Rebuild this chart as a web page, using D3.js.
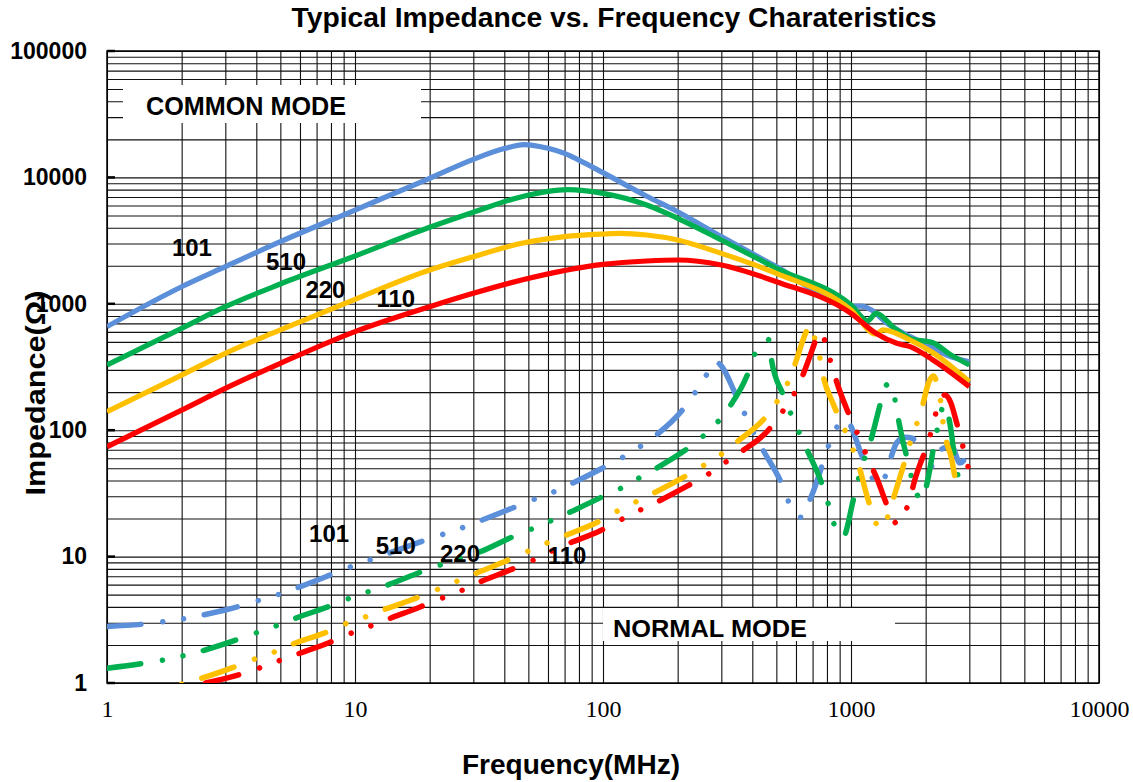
<!DOCTYPE html>
<html>
<head>
<meta charset="utf-8">
<script src="https://cdn.jsdelivr.net/npm/d3@7/dist/d3.min.js"></script>
<style>
body{margin:0;background:#fff;}
svg text{font-family:Arial,"Liberation Sans",sans-serif;font-weight:bold;fill:#000;}
</style>
</head>
<body>
<svg id="chart"></svg>
<script>
// tick values
const xTicks = [1, 10, 100, 1000, 10000]
const yTicks = [1, 10, 100, 1000, 10000, 100000]

const seriesNames = ["101", "510", "220", "110"]
const seriesColors = ["#5b8fd9", "#00b050", "#ffc000", "#ff0000"]

// common mode impedance, [MHz, ohm]
const cm101 = [[1,660],[2,1365],[3,1967],[5,3100],[10,5520],[20,9840],[30,13900],[40,16900],[48,18200],[60,17000],[70,15500],[80,13700],[100,10900],[150,7100],[200,5350],[300,3400],[500,1970],[1000,960],[1100,960],[1200,900],[1400,700],[1730,550],[2000,480],[2430,393],[3000,348]]
const cm510 = [[1,328],[2,640],[3,948],[5,1435],[10,2390],[20,4030],[30,5300],[47,7040],[72,8000],[100,7480],[150,6050],[200,4750],[300,3200],[500,1910],[1000,978],[1170,735],[1260,841],[1500,640],[1730,533],[2140,492],[2500,400],[3000,328]]
const cm220 = [[1,140],[2,273],[3,406],[5,621],[10,1085],[20,1850],[30,2360],[47,3010],[70,3400],[100,3565],[117,3610],[150,3500],[200,3200],[300,2505],[500,1742],[1000,893],[1260,577],[1346,621],[1730,517],[2140,410],[3000,242]]
const cm110 = [[1,74],[2,144],[3,214],[5,338],[10,602],[20,948],[30,1210],[47,1542],[100,2050],[150,2180],[200,2220],[300,2030],[500,1496],[1000,841],[1260,585],[1530,487],[1730,458],[2140,359],[3000,221]]

// normal mode impedance, [MHz, ohm]
const nm101 = [[1,2.8],[1.42,2.93],[1.68,3.05],[2.04,3.22],[2.44,3.45],[3.44,4.06],[4.1,4.51],[4.94,5.03],[5.9,5.7],[8.15,7.3],[9.6,8.3],[11.5,9.4],[13.8,10.7],[19,13.4],[22.6,15],[27.3,17],[32,19.2],[44.5,24.8],[53,28.5],[63.5,32.6],[74,37.5],[102,51.4],[120,61],[141,74],[164,91.6],[210,146],[235,198],[261,273],[285,350],[298,328],[346,184],[376,130],[409,91.6],[447,66.9],[526,37.5],[564,26.4],[628,20.5],[684,28.4],[875,105],[930,122],[984,113],[1110,62],[1300,37],[1345,39],[1428,55.7],[1528,79.6],[1650,88],[1774,86],[2018,47],[2100,50],[2203,65.6],[2546,75],[2750,55],[3000,69]]
const nm510 = [[1,1.31],[1.4,1.43],[1.69,1.52],[2.03,1.64],[2.43,1.8],[3.39,2.22],[4.01,2.5],[4.83,2.84],[5.74,3.25],[7.93,4.06],[9.4,4.64],[11.3,5.27],[13.5,5.96],[18.6,7.6],[22,8.58],[26.5,9.7],[31.9,10.9],[43.4,14.4],[51.5,16.5],[61.6,19.2],[73,22.3],[99.6,29.8],[118,34.7],[139,41.6],[164,50],[220,72],[254,90],[292,118],[325,155],[385,285],[409,401],[453,508],[465,520],[478,359],[533,190],[573,134],[618,95.5],[668,68.5],[766,36.9],[810,26.1],[855,18],[930,14.4],[1020,27.7],[1065,39.2],[1123,56.3],[1194,79.6],[1303,153],[1365,218],[1420,232],[1470,224],[1518,155],[1621,81],[1695,57],[1774,39.2],[1915,28.4],[2094,53],[2156,75],[2248,109],[2370,158],[2546,92],[2621,57],[2764,39.6]]
const nm220 = [[2,0.98],[2.4,1.09],[3.36,1.37],[3.99,1.56],[4.77,1.77],[5.63,2.04],[7.8,2.55],[9.27,2.97],[11.1,3.35],[13.2,3.83],[18.3,4.82],[21.7,5.54],[25.9,6.41],[30.8,7.38],[42.1,9.52],[50.2,11.1],[59.9,12.9],[71.2,14.8],[97.4,19.2],[115,23.1],[136,27.2],[161,32],[218,44],[256,53],[301,64.8],[347,81],[451,126],[505,170],[555,235],[594,332],[668,628],[690,680],[718,508],[753,353],[764,299],[848,161],[920,113],[990,80],[1064,56.3],[1160,30.2],[1230,21.1],[1300,16.8],[1355,17.3],[1445,24.8],[1593,45.6],[1680,64.8],[1774,92.9],[1899,132],[2076,249],[2150,268],[2218,238],[2302,165],[2352,113],[2546,58.9],[2651,41.1],[2760,40],[2874,46.5]]
const nm110 = [[2.5,1],[3.39,1.16],[4.01,1.29],[4.8,1.47],[5.74,1.67],[7.93,2.1],[9.4,2.43],[11.2,2.76],[13.3,3.15],[18.4,4.01],[21.8,4.59],[26.2,5.27],[31,6.15],[42.8,7.93],[50.8,9.12],[60,10.7],[71.4,12.5],[97.4,16],[116,19.2],[137,22.7],[163,26.7],[220,36.4],[260,43.6],[303,53.7],[356,66.4],[464,100],[520,134],[580,182],[632,258],[711,481],[740,600],[766,566],[848,294],[898,208],[963,146],[1040,103.5],[1190,55.3],[1280,40.4],[1367,28.4],[1470,20.1],[1528,18.3],[1600,20],[1730,28.9],[1800,39.2],[2050,81],[2272,165],[2390,190],[2526,165],[2665,115],[2794,81],[3000,47]]

// where the part number labels sit, [MHz, ohm]
const cmLabelPos = [[2.2,2390],[5.27,1850],[7.6,1118],[14.6,948]]
const nmLabelPos = [[7.86,13.0],[14.6,10.5],[26.5,9.06],[71.6,8.74]]

const cmSeries = [cm101, cm510, cm220, cm110]
const nmSeries = [nm101, nm510, nm220, nm110]
const nmDashStart = [0, 0, 77, 0] // where each dash pattern starts

//svg size and plot box
const w = 1133
const h = 782
const pLeft = 107, pRight = 1099, pTop = 51, pBottom = 683

let svg = d3.select("#chart").attr("width", w).attr("height", h)

let xScale = d3.scaleLog().domain([1, 10000]).range([pLeft, pRight])
let yScale = d3.scaleLog().domain([1, 100000]).range([pBottom, pTop])

// every 1..9 step of each decade for the grid
let gridValues = (lo, hi) => {
  let out = []
  for (let d = lo; d < hi; d *= 10) {
    for (let k = 1; k <= 9; k++) out.push(k * d)
  }
  out.push(hi)
  return out
}

svg.append("defs").append("clipPath").attr("id", "plotClip")
  .append("rect").attr("x", pLeft).attr("y", pTop)
  .attr("width", pRight - pLeft).attr("height", pBottom - pTop)

// grid
let xGrid = d3.axisBottom(xScale).tickValues(gridValues(1, 10000)).tickSize(-(pBottom - pTop)).tickFormat("")
svg.append("g").attr("class", "grid")
  .attr("transform", "translate(0," + pBottom + ")")
  .call(xGrid)
let yGrid = d3.axisLeft(yScale).tickValues(gridValues(1, 100000)).tickSize(-(pRight - pLeft)).tickFormat("")
svg.append("g").attr("class", "grid")
  .attr("transform", "translate(" + pLeft + ",0)")
  .call(yGrid)
svg.selectAll(".grid .domain").remove()
svg.selectAll(".grid line").attr("stroke", "#111").attr("stroke-width", 1.1)

// small inside ticks on the left at each decade
svg.append("g").selectAll("line").data(yTicks).enter().append("line")
  .attr("x1", pLeft).attr("x2", pLeft + 8)
  .attr("y1", d => yScale(d)).attr("y2", d => yScale(d))
  .attr("stroke", "#000").attr("stroke-width", 2.5)

// white boxes behind the mode captions
svg.append("rect").attr("x", 123).attr("y", 85).attr("width", 298).attr("height", 38).attr("fill", "#fff")
svg.append("rect").attr("x", 603).attr("y", 608).attr("width", 292).attr("height", 33).attr("fill", "#fff")

// plot border
svg.append("rect").attr("x", pLeft).attr("y", pTop)
  .attr("width", pRight - pLeft).attr("height", pBottom - pTop)
  .attr("fill", "none").attr("stroke", "#000").attr("stroke-width", 1.5)

// axes labels
let xAxis = d3.axisBottom(xScale).tickValues(xTicks).tickSize(0).tickPadding(17)
  .tickFormat(d3.format("d"))
let gx = svg.append("g").attr("transform", "translate(0," + pBottom + ")").call(xAxis)
gx.select(".domain").remove()
gx.selectAll("text").style("font-family", "'Liberation Serif','Times New Roman',serif")
  .style("font-weight", "normal").style("font-size", "24px").attr("fill", "#000")

let yAxis = d3.axisLeft(yScale).tickValues(yTicks).tickSize(0).tickPadding(20)
  .tickFormat(d3.format("d"))
let gy = svg.append("g").attr("transform", "translate(" + pLeft + ",0)").call(yAxis)
gy.select(".domain").remove()
gy.selectAll("text").style("font-size", "23px").style("font-family", "Arial,'Liberation Sans',sans-serif")
  .style("font-weight", "bold").attr("fill", "#000")

let line = d3.line()
  .x(d => xScale(d[0]))
  .y(d => yScale(d[1]))
  .curve(d3.curveMonotoneX)

let plot = svg.append("g").attr("clip-path", "url(#plotClip)")

// normal mode, long dash dot dot
plot.selectAll(".nm").data(nmSeries).enter().append("path")
  .attr("class", "nm")
  .attr("d", line)
  .attr("fill", "none")
  .attr("stroke", (d, i) => seriesColors[i])
  .attr("stroke-width", 5.5)
  .attr("stroke-linecap", "round")
  .attr("stroke-linejoin", "round")
  .attr("stroke-dasharray", "34 22 0.001 21 0.001 21")
  .attr("stroke-dashoffset", (d, i) => nmDashStart[i])

// common mode, solid
plot.selectAll(".cm").data(cmSeries).enter().append("path")
  .attr("class", "cm")
  .attr("d", line)
  .attr("fill", "none")
  .attr("stroke", (d, i) => seriesColors[i])
  .attr("stroke-width", 5.2)
  .attr("stroke-linejoin", "round")

// part number labels
svg.selectAll(".cmLabel").data(cmLabelPos).enter().append("text")
  .attr("class", "cmLabel")
  .attr("x", d => xScale(d[0])).attr("y", d => yScale(d[1]))
  .attr("text-anchor", "middle").style("font-size", "24px")
  .text((d, i) => seriesNames[i])
svg.selectAll(".nmLabel").data(nmLabelPos).enter().append("text")
  .attr("class", "nmLabel")
  .attr("x", d => xScale(d[0])).attr("y", d => yScale(d[1]))
  .attr("text-anchor", "middle").style("font-size", "24px")
  .text((d, i) => seriesNames[i])

// mode captions
svg.append("text").attr("x", 146).attr("y", 115).style("font-size", "25px")
  .attr("textLength", 200).attr("lengthAdjust", "spacingAndGlyphs").text("COMMON MODE")
svg.append("text").attr("x", 613).attr("y", 637).style("font-size", "24px")
  .attr("textLength", 194).attr("lengthAdjust", "spacingAndGlyphs").text("NORMAL MODE")

// title and axis titles
svg.append("text").attr("x", 614).attr("y", 27).attr("text-anchor", "middle")
  .style("font-size", "27px").attr("textLength", 645).attr("lengthAdjust", "spacingAndGlyphs")
  .text("Typical Impedance vs. Frequency Charateristics")
svg.append("text").attr("x", 571).attr("y", 774).attr("text-anchor", "middle")
  .style("font-size", "27px").attr("textLength", 218).attr("lengthAdjust", "spacingAndGlyphs")
  .text("Frequency(MHz)")
svg.append("text").attr("transform", "translate(45,393) rotate(-90)").attr("text-anchor", "middle")
  .style("font-size", "27px").attr("textLength", 205).attr("lengthAdjust", "spacingAndGlyphs")
  .text("Impedance(Ω)")
</script>
</body>
</html>
